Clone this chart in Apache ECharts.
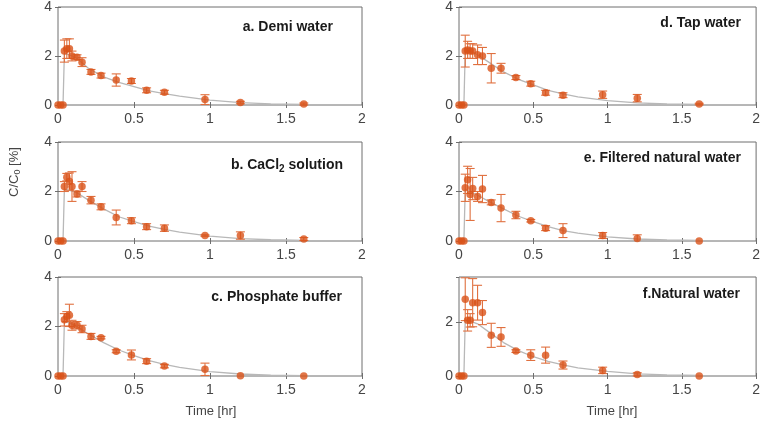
<!DOCTYPE html>
<html>
<head>
<meta charset="utf-8">
<script src="https://cdn.jsdelivr.net/npm/echarts@6/dist/echarts.min.js"></script>
<style>html,body{margin:0;padding:0;background:#fff}#chart{width:763px;height:426px}</style>
</head>
<body>
<div id="chart"></div>
<script>
// ---- data ----
const xTicks = [0, 0.5, 1, 1.5, 2];
const yTicks = [0, 2, 4];
const sampleX = [0, 0.017, 0.033, 0.042, 0.058, 0.075, 0.092, 0.125, 0.158, 0.217, 0.283, 0.383, 0.483, 0.583, 0.7, 0.967, 1.2, 1.617];
const modelX  = [0, 0.033, 0.042, 0.075, 0.125, 0.2, 0.3, 0.4, 0.5, 0.6, 0.7, 0.8, 1.0, 1.2, 1.4, 1.617];

const demiY    = [0, 0, 0, 2.2, 2.3, 2.3, 2.0, 1.95, 1.75, 1.35, 1.2, 1.02, 0.98, 0.6, 0.52, 0.22, 0.1, 0.04];
const demiErr  = [0, 0, 0, 0.45, 0.4, 0.4, 0.2, 0.1, 0.18, 0.1, 0.1, 0.25, 0.1, 0.1, 0.08, 0.2, 0.05, 0.04];
const demiFit  = [0, 0, 2.1, 2.05, 1.9, 1.5, 1.15, 0.92, 0.75, 0.58, 0.46, 0.36, 0.2, 0.1, 0.05, 0.02];

const cacl2Y   = [0, 0, 0, 2.2, 2.58, 2.4, 2.2, 1.9, 2.2, 1.65, 1.38, 0.95, 0.82, 0.58, 0.52, 0.22, 0.22, 0.08];
const cacl2Err = [0, 0, 0, 0.2, 0.15, 0.35, 0.6, 0.12, 0.2, 0.15, 0.12, 0.3, 0.12, 0.12, 0.13, 0.03, 0.15, 0.06];
const cacl2Fit = [0, 0, 2.1, 2.05, 1.95, 1.65, 1.3, 0.98, 0.78, 0.6, 0.47, 0.36, 0.2, 0.1, 0.05, 0.02];

const phosY    = [0, 0, 0, 2.27, 2.4, 2.45, 2.05, 2.05, 1.9, 1.6, 1.55, 1.0, 0.85, 0.6, 0.4, 0.27, 0.01, 0];
const phosErr  = [0, 0, 0, 0.25, 0.2, 0.45, 0.2, 0.15, 0.15, 0.12, 0.05, 0.06, 0.2, 0.1, 0.07, 0.25, 0, 0];
const phosFit  = [0, 0, 2.2, 2.15, 2.0, 1.7, 1.35, 1.05, 0.82, 0.62, 0.47, 0.35, 0.18, 0.08, 0.03, 0.01];

const tapY     = [0, 0, 0, 2.2, 2.25, 2.2, 2.2, 2.05, 2.0, 1.5, 1.5, 1.12, 0.87, 0.5, 0.4, 0.42, 0.28, 0.04];
const tapErr   = [0, 0, 0, 0.65, 0.35, 0.3, 0.3, 0.4, 0.35, 0.6, 0.2, 0.08, 0.1, 0.1, 0.1, 0.15, 0.15, 0.03];
const tapFit   = [0, 0, 2.2, 2.2, 2.05, 1.75, 1.35, 1.05, 0.82, 0.6, 0.45, 0.33, 0.18, 0.09, 0.04, 0.02];

const filtY    = [0, 0, 0, 2.15, 2.47, 1.88, 2.12, 1.8, 2.1, 1.56, 1.33, 1.05, 0.82, 0.52, 0.42, 0.22, 0.1, 0];
const filtErr  = [0, 0, 0, 0.55, 0.55, 1.05, 0.45, 0.2, 0.55, 0.1, 0.55, 0.15, 0.05, 0.1, 0.28, 0.12, 0.15, 0];
const filtFit  = [0, 0, 2.1, 2.0, 1.85, 1.6, 1.3, 1.0, 0.78, 0.58, 0.42, 0.32, 0.17, 0.08, 0.04, 0.02];

const natY     = [0, 0, 0, 2.87, 2.08, 2.08, 2.74, 2.74, 2.37, 1.52, 1.46, 0.93, 0.78, 0.78, 0.41, 0.21, 0.06, 0];
const natErr   = [0, 0, 0, 0.8, 0.4, 0.25, 0.9, 0.65, 0.45, 0.45, 0.35, 0.05, 0.2, 0.3, 0.15, 0.12, 0.06, 0];
const natFit   = [0, 0, 2.1, 2.05, 1.95, 1.65, 1.25, 0.95, 0.72, 0.55, 0.42, 0.3, 0.17, 0.08, 0.04, 0.02];

const titles = ['a. Demi water', 'b. CaCl{sub|2} solution', 'c. Phosphate buffer',
                'd. Tap water', 'e. Filtered natural water', 'f.Natural water'];
const yMaxes = [4, 4, 4, 4, 4, 3.7];

// ---- layout / style ----
const panels = [
  {y: demiY,  e: demiErr,  fit: demiFit},
  {y: cacl2Y, e: cacl2Err, fit: cacl2Fit},
  {y: phosY,  e: phosErr,  fit: phosFit},
  {y: tapY,   e: tapErr,   fit: tapFit},
  {y: filtY,  e: filtErr,  fit: filtFit},
  {y: natY,   e: natErr,   fit: natFit}
];
const gridPos = [
  {left: 58, top: 7, width: 304, height: 98},
  {left: 58, top: 142, width: 304, height: 99},
  {left: 58, top: 277, width: 304, height: 99},
  {left: 459, top: 7, width: 302, height: 98},
  {left: 459, top: 142, width: 302, height: 99},
  {left: 459, top: 277, width: 302, height: 99}
];
const titlePos = [[333, 27], [343, 165], [342, 297], [741, 23], [741, 158], [740, 294]];

const ORANGE = '#d95319';
const FONT = '"Liberation Sans", Arial, sans-serif';
const AX = '#6e6e6e';

const grid = [], xAxis = [], yAxis = [], series = [], graphic = [];
panels.forEach((p, i) => {
  const ymax = yMaxes[i];
  grid.push(Object.assign({show: true, borderColor: AX, borderWidth: 1, containLabel: false}, gridPos[i]));
  const baseX = {gridIndex: i, type: 'value', min: 0, max: 2, interval: 0.5,
    axisLine: {show: false}, splitLine: {show: false},
    axisTick: {show: true, inside: true, length: 3, lineStyle: {color: AX}}};
  xAxis.push(Object.assign({}, baseX, {position: 'bottom',
    axisLabel: {show: true, color: '#454545', fontSize: 14, fontFamily: FONT, margin: 7,
      formatter: v => xTicks.includes(v) ? String(v) : ''}}));
  xAxis.push(Object.assign({}, baseX, {position: 'top', axisLabel: {show: false}}));
  const baseY = {gridIndex: i, type: 'value', min: 0, max: ymax, interval: 2,
    axisLine: {show: false}, splitLine: {show: false},
    axisTick: {show: true, inside: true, length: 3, lineStyle: {color: AX}}};
  yAxis.push(Object.assign({}, baseY, {position: 'left',
    axisLabel: {show: true, color: '#454545', fontSize: 14, fontFamily: FONT, margin: 6, showMaxLabel: ymax === 4,
      formatter: v => yTicks.includes(v) ? String(v) : ''}}));
  yAxis.push(Object.assign({}, baseY, {position: 'right', axisLabel: {show: false}}));

  const xi = 2 * i, yi = 2 * i;
  series.push({type: 'line', xAxisIndex: xi, yAxisIndex: yi, symbol: 'none', silent: true,
    lineStyle: {color: '#b8b8b8', width: 1.3}, z: 1,
    data: modelX.map((x, k) => [x, p.fit[k]])});
  series.push({type: 'custom', xAxisIndex: xi, yAxisIndex: yi, z: 2, silent: true,
    data: sampleX.map((x, k) => [x, p.y[k], p.e[k]]),
    renderItem: (params, api) => {
      const x = api.value(0), y = api.value(1), e = api.value(2);
      if (!e) return null;
      const hiV = Math.min(y + e, ymax), loV = Math.max(y - e, 0);
      const top = api.coord([x, hiV]), bot = api.coord([x, loV]);
      const w = 4.5;
      const st = {stroke: '#e0703f', lineWidth: 1.1};
      const ch = [{type: 'line', shape: {x1: top[0], y1: top[1], x2: bot[0], y2: bot[1]}, style: st}];
      if (y + e <= ymax) ch.push({type: 'line', shape: {x1: top[0] - w, y1: top[1], x2: top[0] + w, y2: top[1]}, style: st});
      if (y - e >= 0) ch.push({type: 'line', shape: {x1: bot[0] - w, y1: bot[1], x2: bot[0] + w, y2: bot[1]}, style: st});
      return {type: 'group', children: ch};
    }});
  series.push({type: 'scatter', xAxisIndex: xi, yAxisIndex: yi, symbol: 'circle', symbolSize: 7.5, z: 3,
    itemStyle: {color: ORANGE}, data: sampleX.map((x, k) => [x, p.y[k]])});

  graphic.push({type: 'text', x: titlePos[i][0], y: titlePos[i][1],
    style: {text: titles[i], align: 'right', verticalAlign: 'middle',
      font: 'bold 14px ' + FONT, fill: '#1a1a1a',
      rich: {sub: {fontSize: 10, fontWeight: 'bold', fontFamily: FONT, verticalAlign: 'bottom', padding: [8, 0, 0, 0], fill: '#1a1a1a'}}}});
});

graphic.push({type: 'text', x: 14, y: 172, rotation: Math.PI / 2,
  style: {text: 'C/C{s|0} [%]', align: 'center', verticalAlign: 'middle', font: '13px ' + FONT, fill: '#454545',
    rich: {s: {fontSize: 9, fontFamily: FONT, padding: [7, 0, 0, 0], fill: '#454545'}}}});
graphic.push({type: 'text', x: 211, y: 411, style: {text: 'Time [hr]', align: 'center', verticalAlign: 'middle', font: '13px ' + FONT, fill: '#454545'}});
graphic.push({type: 'text', x: 612, y: 411, style: {text: 'Time [hr]', align: 'center', verticalAlign: 'middle', font: '13px ' + FONT, fill: '#454545'}});

const chart = echarts.init(document.getElementById('chart'), null, {renderer: 'canvas'});
chart.setOption({animation: false, backgroundColor: '#fff', grid, xAxis, yAxis, series, graphic});
</script>
</body>
</html>
